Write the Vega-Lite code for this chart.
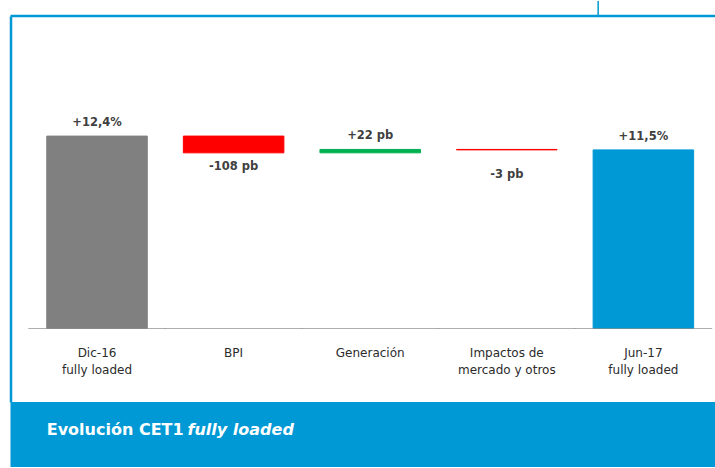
{
  "$schema": "https://vega.github.io/schema/vega-lite/v6.json",
  "background": "white",
  "padding": {"left": 8.5, "top": 0, "right": 0, "bottom": 2},
  "spacing": 0,
  "bounds": "flush",
  "config": {"view": {"stroke": null}, "font": "DejaVu Sans"},
  "datasets": {
    "steps": [
      {"cat": "Dic-16\nfully loaded", "kind": "inicio", "start": 0, "end": 12.4, "label": "+12,4%"},
      {"cat": "BPI", "kind": "descenso", "start": 12.4, "end": 11.32, "label": "-108 pb"},
      {"cat": "Generación", "kind": "aumento", "start": 11.32, "end": 11.54, "label": "+22 pb"},
      {"cat": "Impactos de\nmercado y otros", "kind": "descenso", "start": 11.54, "end": 11.51, "label": "-3 pb"},
      {"cat": "Jun-17\nfully loaded", "kind": "final", "start": 0, "end": 11.51, "label": "+11,5%"}
    ],
    "caption": [
      {"part": "Evolución CET1", "style": "normal"},
      {"part": "fully loaded", "style": "italic"}
    ]
  },
  "vconcat": [
    {
      "width": 705,
      "height": 386,
      "data": {"name": "steps"},
      "layer": [
        {
          "mark": {"type": "bar", "strokeWidth": 1},
          "encoding": {
            "x": {
              "field": "cat",
              "type": "nominal",
              "sort": null,
              "scale": {"paddingInner": 0.264, "paddingOuter": 0.2127, "align": 0.624},
              "axis": {
                "orient": "bottom",
                "offset": -74,
                "domain": false,
                "ticks": false,
                "labelAngle": 0,
                "labelExpr": "split(datum.label, '\\n')",
                "labelFont": "DejaVu Sans",
                "labelFontSize": 12,
                "labelColor": "#2b2b2b",
                "labelLineHeight": 17.6,
                "labelPadding": 19,
                "labelBaseline": "top",
                "title": null
              }
            },
            "y": {
              "field": "start",
              "type": "quantitative",
              "scale": {"domain": [-4.74, 20.14], "nice": false, "zero": false},
              "axis": {"orient": "left", "domain": true, "domainColor": "#0099d5", "domainWidth": 2.5, "labels": false, "ticks": false, "grid": false, "title": null}
            },
            "y2": {"field": "end"},
            "color": {
              "field": "kind",
              "type": "nominal",
              "scale": {"domain": ["inicio", "descenso", "aumento", "final"], "range": ["#808080", "#ff0000", "#00b050", "#0099d5"]},
              "legend": null
            },
            "stroke": {
              "field": "kind",
              "type": "nominal",
              "scale": {"domain": ["inicio", "descenso", "aumento", "final"], "range": ["#808080", "#ff0000", "#00b050", "#0099d5"]},
              "legend": null
            }
          }
        },
        {
          "mark": {"type": "tick", "orient": "horizontal", "size": 137.6, "thickness": 1, "color": "#8c8c8c"},
          "encoding": {
            "x": {"field": "cat", "type": "nominal", "sort": null},
            "y": {"datum": 0, "type": "quantitative", "title": null}
          }
        },
        {
          "transform": [{"filter": "datum.end >= datum.start"}],
          "mark": {"type": "text", "fontWeight": "bold", "fontSize": 11.5, "color": "#404040", "baseline": "alphabetic", "dy": -10},
          "encoding": {
            "x": {"field": "cat", "type": "nominal", "sort": null},
            "y": {"field": "end", "type": "quantitative", "title": null},
            "text": {"field": "label"}
          }
        },
        {
          "transform": [{"filter": "datum.cat === 'BPI'"}],
          "mark": {"type": "text", "fontWeight": "bold", "fontSize": 11.5, "color": "#404040", "baseline": "alphabetic", "dy": 17.5},
          "encoding": {
            "x": {"field": "cat", "type": "nominal", "sort": null},
            "y": {"field": "end", "type": "quantitative", "title": null},
            "text": {"field": "label"}
          }
        },
        {
          "transform": [{"filter": "indexof(datum.cat, 'Impactos') >= 0"}],
          "mark": {"type": "text", "fontWeight": "bold", "fontSize": 11.5, "color": "#404040", "baseline": "alphabetic", "dy": 28},
          "encoding": {
            "x": {"field": "cat", "type": "nominal", "sort": null},
            "y": {"field": "end", "type": "quantitative", "title": null},
            "text": {"field": "label"}
          }
        },
        {
          "transform": [{"filter": "datum.kind === 'inicio'"}],
          "mark": {"type": "rule", "color": "#0099d5", "strokeWidth": 2.5},
          "encoding": {"y": {"datum": 20.14, "type": "quantitative", "title": null}}
        },
        {
          "transform": [{"filter": "datum.kind === 'final'"}],
          "mark": {"type": "rule", "color": "#0099d5", "strokeWidth": 1.5},
          "encoding": {
            "x": {"field": "cat", "type": "nominal", "sort": null, "bandPosition": 0.05},
            "y": {"datum": 20.14, "type": "quantitative", "title": null},
            "y2": {"datum": 21.1}
          }
        }
      ]
    },
    {
      "width": 705,
      "height": 65,
      "view": {"fill": "#0099d5", "stroke": null},
      "data": {"name": "caption"},
      "encoding": {
        "x": {
          "field": "part",
          "type": "ordinal",
          "sort": null,
          "scale": {"type": "point", "domain": ["Evolución CET1", "fully loaded"], "padding": 0, "range": [36.25, 177]},
          "axis": null
        },
        "text": {"field": "part"}
      },
      "layer": [
        {
          "transform": [{"filter": "datum.style === 'normal'"}],
          "mark": {"type": "text", "align": "left", "baseline": "alphabetic", "color": "white", "fontSize": 16, "fontWeight": "bold"}
        },
        {
          "transform": [{"filter": "datum.style === 'italic'"}],
          "mark": {"type": "text", "align": "left", "baseline": "alphabetic", "color": "white", "fontSize": 16, "fontWeight": "bold", "fontStyle": "italic"}
        }
      ]
    }
  ]
}
